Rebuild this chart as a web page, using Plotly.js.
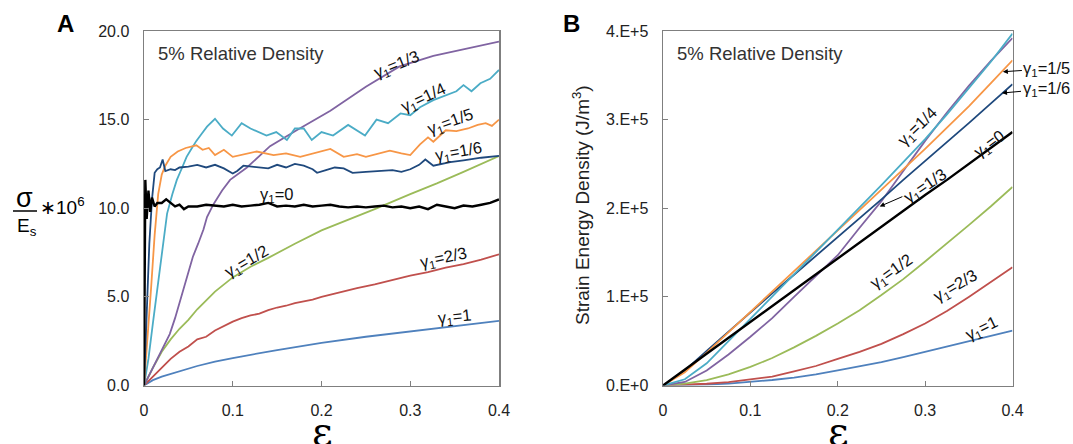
<!DOCTYPE html>
<html><head><meta charset="utf-8">
<script src="https://cdn.plot.ly/plotly-3.0.1.min.js"></script>
<style>html,body{margin:0;padding:0;background:#fff}#chart{width:1073px;height:444px}</style>
</head><body><div id="chart"></div>
<script>
// ---------- Panel A : normalised stress (sigma/Es * 1e6) vs strain ----------
const epsA_g1   = [0,0.01,0.02,0.04,0.06,0.08,0.1,0.15,0.2,0.25,0.3,0.35,0.4];
const stressA_g1 = [0,0.3,0.5,0.8,1.1,1.35,1.55,2.0,2.4,2.75,3.05,3.35,3.65];

const epsA_g23   = [0,0.01,0.02,0.03,0.04,0.05,0.06,0.07,0.08,0.09,0.1,0.11,0.12,0.13,0.14,0.15,0.16,0.17,0.18,0.19,0.2,0.22,0.24,0.26,0.28,0.3,0.32,0.34,0.36,0.38,0.4];
const stressA_g23 = [0,0.5,1.0,1.5,1.9,2.2,2.6,2.75,3.1,3.35,3.6,3.8,3.95,4.05,4.25,4.4,4.5,4.65,4.75,4.85,5.0,5.25,5.5,5.7,5.95,6.2,6.4,6.65,6.85,7.1,7.4];

const epsA_g12   = [0,0.005,0.01,0.02,0.03,0.04,0.05,0.06,0.07,0.08,0.1,0.12,0.14,0.17,0.2,0.23,0.26,0.3,0.33,0.36,0.4];
const stressA_g12 = [0,0.5,1.0,1.9,2.6,3.2,3.7,4.3,4.8,5.3,6.1,6.7,7.2,8.0,8.75,9.35,9.95,10.8,11.4,12.05,12.95];

const epsA_g0   = [0,0.0015,0.003,0.005,0.007,0.009,0.012,0.015,0.02,0.025,0.03,0.035,0.04,0.045,0.05,0.06,0.07,0.08,0.09,0.1,0.11,0.12,0.13,0.14,0.15,0.16,0.17,0.18,0.19,0.2,0.21,0.22,0.23,0.24,0.25,0.26,0.27,0.28,0.29,0.3,0.31,0.32,0.33,0.34,0.35,0.36,0.37,0.38,0.39,0.4];
const stressA_g0 = [0,11.6,9.4,11.0,9.8,10.6,10.1,10.3,10.3,10.5,10.3,10.1,10.2,9.95,10.1,10.1,10.2,10.15,10.1,10.2,10.1,10.15,10.2,10.3,10.1,10.15,10.1,10.2,10.1,10.15,10.2,10.1,10.05,10.1,10.05,10.1,10.15,10.05,10.1,10.0,10.1,9.95,10.2,10.1,10.0,10.15,10.1,10.2,10.3,10.5];

const epsA_g16   = [0,0.003,0.006,0.009,0.012,0.015,0.018,0.021,0.024,0.03,0.035,0.04,0.05,0.06,0.07,0.08,0.09,0.1,0.105,0.112,0.128,0.14,0.15,0.16,0.17,0.18,0.19,0.195,0.205,0.215,0.225,0.235,0.25,0.265,0.28,0.29,0.3,0.31,0.317,0.326,0.335,0.345,0.36,0.38,0.4];
const stressA_g16 = [0,4,8,10.5,12.0,12.2,12.3,12.75,12.1,12.2,12.15,12.3,12.35,12.45,12.3,12.45,12.25,11.96,12.1,12.4,12.3,12.25,12.45,12.3,12.5,12.4,12.2,12.0,12.15,12.3,12.25,12.0,12.05,12.1,12.15,12.05,12.2,12.45,12.75,12.4,12.5,12.6,12.7,12.85,12.95];

const epsA_g15   = [0,0.004,0.008,0.012,0.016,0.02,0.024,0.03,0.038,0.047,0.059,0.066,0.073,0.08,0.09,0.1,0.11,0.127,0.146,0.16,0.176,0.19,0.21,0.225,0.24,0.25,0.265,0.277,0.29,0.3,0.311,0.32,0.326,0.34,0.352,0.365,0.376,0.385,0.392,0.4];
const stressA_g15 = [0,2.5,5.5,8.5,10.8,11.9,12.4,12.9,13.2,13.4,13.55,13.3,13.4,13.0,13.3,12.9,13.0,13.2,13.0,13.1,12.9,13.1,13.35,12.9,13.05,12.9,13.1,13.25,13.1,13.0,13.6,14.0,13.75,14.4,14.35,14.5,14.7,14.8,14.65,15.0];

const epsA_g14   = [0,0.005,0.01,0.015,0.02,0.026,0.032,0.037,0.043,0.048,0.054,0.059,0.065,0.071,0.08,0.089,0.099,0.11,0.12,0.138,0.149,0.161,0.17,0.18,0.189,0.2,0.213,0.23,0.249,0.262,0.275,0.289,0.3,0.311,0.326,0.341,0.352,0.36,0.369,0.379,0.39,0.4];
const stressA_g14 = [0,1.5,3.5,5.5,7.5,9.7,10.8,11.6,12.3,12.9,13.4,13.8,14.2,14.6,15.05,14.5,14.1,14.8,14.5,14.1,14.3,13.85,14.5,14.5,13.85,14.3,14.1,14.7,14.1,15.0,14.8,15.35,15.25,15.7,16.1,16.4,16.6,16.95,16.6,17.05,17.3,17.8];

const epsA_g13   = [0,0.01,0.02,0.029,0.035,0.041,0.048,0.055,0.061,0.067,0.071,0.078,0.088,0.097,0.116,0.142,0.172,0.21,0.25,0.288,0.326,0.364,0.4];
const stressA_g13 = [0,1.0,2.0,2.9,3.8,4.8,6.0,7.25,8.0,8.8,9.5,10.2,11.0,11.6,12.3,13.5,14.4,15.5,16.85,18.0,18.6,19.0,19.4];

// ---------- Panel B : strain energy density (units of 1e5 J/m^3) ----------
const epsB = [0,0.025,0.05,0.075,0.1,0.125,0.15,0.175,0.2,0.225,0.25,0.275,0.3,0.325,0.35,0.375,0.4];
const energyB_g1  = [0,0.002,0.01,0.022,0.04,0.062,0.09,0.125,0.17,0.215,0.265,0.32,0.38,0.44,0.505,0.56,0.62];
const energyB_g23 = [0,0.006,0.02,0.037,0.065,0.1,0.16,0.22,0.3,0.38,0.47,0.58,0.70,0.84,1.0,1.17,1.335];
const energyB_g12 = [0,0.02,0.06,0.125,0.21,0.31,0.43,0.56,0.70,0.85,1.02,1.2,1.4,1.6,1.81,2.02,2.24];
const energyB_g0  = [0,0.18,0.36,0.54,0.72,0.89,1.07,1.25,1.43,1.61,1.79,1.97,2.15,2.32,2.50,2.68,2.86];
const energyB_g16 = [0,0.17,0.39,0.61,0.83,1.04,1.25,1.46,1.68,1.89,2.10,2.32,2.53,2.75,2.96,3.18,3.40];
const energyB_g15 = [0,0.15,0.37,0.6,0.83,1.06,1.28,1.51,1.74,1.97,2.2,2.44,2.67,2.91,3.15,3.41,3.67];
const energyB_g14 = [0,0.07,0.25,0.5,0.75,1.0,1.25,1.5,1.75,2.0,2.26,2.52,2.78,3.06,3.35,3.65,3.97];
const energyB_g13 = [0,0.04,0.17,0.35,0.55,0.76,1.0,1.23,1.47,1.78,2.08,2.42,2.76,3.08,3.38,3.66,3.92];

// ---------- tick labels ----------
const xTickVals = [0,0.1,0.2,0.3,0.4];
const xTickText = ['0','0.1','0.2','0.3','0.4'];
const yTickValsA = [0,5,10,15,20];
const yTickTextA = ['0.0','5.0','10.0','15.0','20.0'];
const yTickValsB = [0,1e5,2e5,3e5,4e5];
const yTickTextB = ['0.E+0','1.E+5','2.E+5','3.E+5','4.E+5'];

const C = {g1:'#4f81bd', g23:'#c0504d', g12:'#9bbb59', g0:'#000000', g16:'#1f497d', g15:'#f79646', g14:'#4bacc6', g13:'#8064a2'};

function tr(x, y, color, w, xa, ya){
  return {x:x, y:y, type:'scatter', mode:'lines', line:{color:color, width:w}, xaxis:xa, yaxis:ya, hoverinfo:'skip', showlegend:false};
}
const sc = a => a.map(v => v*1e5);

const data = [
  tr(epsA_g1, stressA_g1, C.g1, 1.8, 'x','y'),
  tr(epsA_g23, stressA_g23, C.g23, 1.8, 'x','y'),
  tr(epsA_g12, stressA_g12, C.g12, 1.8, 'x','y'),
  tr(epsA_g13, stressA_g13, C.g13, 1.8, 'x','y'),
  tr(epsA_g14, stressA_g14, C.g14, 1.8, 'x','y'),
  tr(epsA_g15, stressA_g15, C.g15, 1.8, 'x','y'),
  tr(epsA_g16, stressA_g16, C.g16, 1.8, 'x','y'),
  tr(epsA_g0, stressA_g0, C.g0, 2.4, 'x','y'),

  tr(epsB, sc(energyB_g1), C.g1, 1.8, 'x2','y2'),
  tr(epsB, sc(energyB_g23), C.g23, 1.8, 'x2','y2'),
  tr(epsB, sc(energyB_g12), C.g12, 1.8, 'x2','y2'),
  tr(epsB, sc(energyB_g13), C.g13, 1.8, 'x2','y2'),
  tr(epsB, sc(energyB_g16), C.g16, 1.8, 'x2','y2'),
  tr(epsB, sc(energyB_g15), C.g15, 1.8, 'x2','y2'),
  tr(epsB, sc(energyB_g14), C.g14, 1.8, 'x2','y2'),
  tr(epsB, sc(energyB_g0), C.g0, 2.4, 'x2','y2')
];

const W = 1073, H = 444;
const px = v => v / W;
const py = v => 1 - v / H;
const FF = 'Arial, Liberation Sans, sans-serif';

const axCommon = {
  showline:true, linecolor:'#7f7f7f', linewidth:1.5, mirror:true,
  ticks:'inside', ticklen:5, tickwidth:1, tickcolor:'#7f7f7f',
  showgrid:false, zeroline:false, fixedrange:true,
  tickfont:{family:FF, size:16, color:'#222'},
  ticklabelstandoff:10
};

const labFont = {family:FF, size:16.5, color:'#111'};
function lab(text, x, y, ang, xr, yr){
  return {text:text, x:x, y:y, xref:xr, yref:yr, showarrow:false, textangle:ang, font:labFont, xanchor:'center', yanchor:'middle'};
}
function labP(text, X, Y, ang, font){
  return {text:text, x:px(X), y:py(Y), xref:'paper', yref:'paper', showarrow:false, textangle:ang||0, font:font||labFont, xanchor:'center', yanchor:'middle'};
}
function arrowLab(text, x, y, ax, ay){
  return {text:text, x:x, y:y, xref:'x2', yref:'y2', ax:ax, ay:ay, showarrow:true,
    arrowhead:2, arrowsize:1, arrowwidth:1, arrowcolor:'#000', standoff:0, font:labFont};
}
const g = s => 'γ<sub>1</sub>=' + s;

const annotations = [
  // panel letters
  labP('<b>A</b>', 65, 23, 0, {family:FF, size:24, color:'#000'}),
  labP('<b>B</b>', 571, 23, 0, {family:FF, size:24, color:'#000'}),
  // density notes
  labP('5% Relative Density', 241, 53, 0, {family:FF, size:18.5, color:'#333'}),
  labP('5% Relative Density', 760, 53, 0, {family:FF, size:18.5, color:'#333'}),
  // x titles
  labP('ε', 322, 431, 0, {family:'DejaVu Serif, serif', size:40, color:'#000'}),
  labP('ε', 838, 431, 0, {family:'DejaVu Serif, serif', size:40, color:'#000'}),
  // y title A (fraction)
  labP('σ', 24, 198, 0, {family:FF, size:27, color:'#000'}),
  labP('E<sub>s</sub>', 27, 227, 0, {family:FF, size:19, color:'#000'}),
  labP('∗10<sup>6</sup>', 62, 206, 0, {family:FF, size:19, color:'#000'}),
  // y title B
  labP('Strain Energy Density (J/m<sup>3</sup>)', 581, 205, -90, {family:FF, size:19, color:'#222'}),

  // panel A curve labels
  lab(g('1/3'), 0.284, 18.1, -22, 'x','y'),
  lab(g('1/4'), 0.315, 16.2, -25, 'x','y'),
  lab(g('1/5'), 0.345, 14.85, -20, 'x','y'),
  lab(g('1/6'), 0.354, 13.2, -10, 'x','y'),
  lab(g('0'), 0.149, 10.75, 0, 'x','y'),
  lab(g('1/2'), 0.115, 6.99, -30, 'x','y'),
  lab(g('2/3'), 0.338, 7.18, -12, 'x','y'),
  lab(g('1'), 0.35, 3.84, -6, 'x','y'),

  // panel B curve labels
  lab(g('1/4'), 0.291, 2.92e5, -44, 'x2','y2'),
  lab(g('0'), 0.374, 2.72e5, -36, 'x2','y2'),
  lab(g('1/2'), 0.261, 1.28e5, -35, 'x2','y2'),
  lab(g('2/3'), 0.335, 1.12e5, -30, 'x2','y2'),
  lab(g('1'), 0.364, 0.64e5, -26, 'x2','y2'),
  Object.assign(arrowLab(g('1/3'), 0.248, 2.02e5, 46, -20), {textangle:-34}),
  arrowLab(g('1/5'), 0.389, 3.54e5, 44, -3),
  arrowLab(g('1/6'), 0.388, 3.30e5, 44, -4)
];

const layout = {
  width:W, height:H, margin:{l:0,r:0,t:0,b:0},
  paper_bgcolor:'#fff', plot_bgcolor:'#fff', showlegend:false,
  xaxis: Object.assign({}, axCommon, {domain:[px(144), px(499)], range:[0,0.4], tickvals:xTickVals, ticktext:xTickText, anchor:'y'}),
  yaxis: Object.assign({}, axCommon, {domain:[py(385.5), py(31)], range:[0,20], tickvals:yTickValsA, ticktext:yTickTextA, anchor:'x'}),
  xaxis2: Object.assign({}, axCommon, {domain:[px(663), px(1012.5)], range:[0,0.4], tickvals:xTickVals, ticktext:xTickText, anchor:'y2'}),
  yaxis2: Object.assign({}, axCommon, {domain:[py(385.5), py(31)], range:[0,4e5], tickvals:yTickValsB, ticktext:yTickTextB, anchor:'x2'}),
  shapes:[
    {type:'line', xref:'paper', yref:'paper', x0:px(13), x1:px(37), y0:py(211), y1:py(211), line:{color:'#000', width:1.5}}
  ],
  annotations: annotations
};

Plotly.newPlot('chart', data, layout, {staticPlot:true, displayModeBar:false});
</script>
</body></html>
